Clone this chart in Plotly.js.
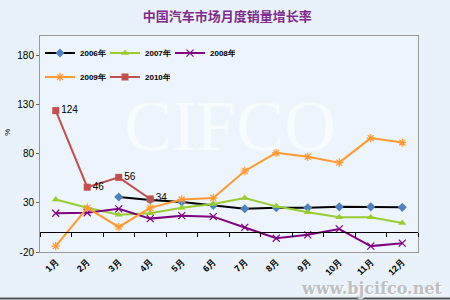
<!DOCTYPE html>
<html><head><meta charset="utf-8">
<script src="https://cdn.plot.ly/plotly-3.0.1.min.js"></script>
<style>html,body{margin:0;padding:0;background:#e9f2fb;}#c{width:450px;height:300px;}</style>
</head><body><div id="c"></div>
<script>
const months = ['1月','2月','3月','4月','5月','6月','7月','8月','9月','10月','11月','12月'];
const s2006 = [null, null, 36, 33, 31, 27.5, 24, 25, 25, 26, 26, 25.5];
const s2007 = [33.5, 25, 18, 19.5, 25, 29, 35, 26.5, 20.5, 15.5, 15.5, 9.5];
const s2008 = [19.5, 20, 24, 14, 17, 16, 5, -6, -2.5, 3.5, -14, -11];
const s2009 = [-14, 25, 5.5, 25, 33.5, 35, 62.5, 81, 77, 71, 96, 91.5];
const s2010 = [124, 46, 56, 34];
const names = ['2006年','2007年','2008年','2009年','2010年'];
const yTicks = [-20, 30, 80, 130, 180];

const traces = [
  {x: months, y: s2006, name: names[0], mode: 'lines+markers', legend: 'legend',
   line: {color: '#000000', width: 2}, marker: {symbol: 'diamond', size: 7, color: '#4f81bd'}},
  {x: months, y: s2007, name: names[1], mode: 'lines+markers', legend: 'legend',
   line: {color: '#99cc33', width: 2}, marker: {symbol: 'triangle-up', size: 7, color: '#99cc33'}},
  {x: months, y: s2008, name: names[2], mode: 'lines+markers', legend: 'legend',
   line: {color: '#800080', width: 2}, marker: {symbol: 'x-thin-open', size: 7, line: {color: '#800080', width: 1.2}}},
  {x: months, y: s2009, name: names[3], mode: 'lines+markers', legend: 'legend2',
   line: {color: '#ff9933', width: 2}, marker: {symbol: 'asterisk-open', size: 7, line: {color: '#4bacc6', width: 1.2}}},
  {x: months.slice(0, s2010.length), y: s2010, name: names[4], mode: 'lines+markers+text', legend: 'legend2',
   text: s2010.map(String), textposition: 'middle right', textfont: {family: 'Arial, Liberation Sans', size: 10, color: '#000'},
   line: {color: '#c0504d', width: 2}, marker: {symbol: 'square', size: 7, color: '#c0504d'}},
  {x: [0], y: [0], xaxis: 'x2', yaxis: 'y', mode: 'none', showlegend: false, hoverinfo: 'skip'}
];

const zeroPos = (0 - (-20)) / (200 - (-20));
const legendFont = {family: 'Arial, Liberation Sans', size: 8, color: '#000', weight: 'bold'};
const layout = {
  width: 450, height: 300,
  margin: {l: 40, r: 32, t: 36, b: 48},
  paper_bgcolor: '#e9f2fb', plot_bgcolor: '#edf4fb',
  title: {text: '中国汽车市场月度销量增长率', x: 0.505, xanchor: 'center', y: 0.945, yanchor: 'middle',
          font: {family: 'Noto Sans CJK SC', size: 13, color: '#7f2a8c', weight: 'bold'}},
  xaxis: {type: 'category', categoryorder: 'array', categoryarray: months, range: [-0.5, 11.5],
          showline: true, linecolor: '#999999', linewidth: 1, mirror: true, showgrid: false, zeroline: false,
          ticks: '', tickangle: -45, tickfont: {family: 'Arial, Liberation Sans', size: 9, color: '#000', weight: 'bold'}},
  xaxis2: {overlaying: 'x', anchor: 'free', position: zeroPos, type: 'linear', range: [-0.5, 11.5],
           tickmode: 'linear', tick0: -0.5, dtick: 1, ticks: 'outside', ticklen: 4, tickcolor: '#000', showticklabels: false,
           showline: true, linecolor: '#000', linewidth: 1, showgrid: false, zeroline: false},
  yaxis: {range: [-20, 200], tickvals: yTicks, ticktext: yTicks.map(String), showgrid: false,
          zeroline: true, zerolinecolor: '#000', zerolinewidth: 1,
          showline: true, linecolor: '#999999', mirror: true, ticks: 'outside', ticklen: 3, tickcolor: '#666',
          tickfont: {family: 'Arial, Liberation Sans', size: 10, color: '#000'}},
  legend: {orientation: 'h', x: 0.0, y: 0.921, xanchor: 'left', yanchor: 'middle', bgcolor: 'rgba(0,0,0,0)',
           itemwidth: 30, entrywidth: 20, font: legendFont},
  legend2: {orientation: 'h', x: 0.0, y: 0.81, xanchor: 'left', yanchor: 'middle', bgcolor: 'rgba(0,0,0,0)',
            itemwidth: 30, entrywidth: 20, font: legendFont},
  annotations: [
    {text: '%', xref: 'paper', yref: 'paper', x: -0.085, y: 0.556, xanchor: 'center', yanchor: 'middle', showarrow: false,
     textangle: -90, font: {family: 'Arial, Liberation Sans', size: 8, color: '#000'}},
    {text: 'CIFCO', xref: 'paper', yref: 'paper', x: 0.503, y: 0.585, xanchor: 'center', yanchor: 'middle', showarrow: false,
     font: {family: 'Liberation Serif', size: 72, color: 'rgba(255,255,255,0.6)'}},
    {text: 'www.bjcifco.net', xref: 'paper', yref: 'paper', x: 1.07, y: -0.17, xanchor: 'right', yanchor: 'middle', showarrow: false,
     font: {family: 'DejaVu Serif', size: 16, color: '#bfbfbf', weight: 'bold', shadow: '1px 1px 1px #ffffff'}}
  ],
  shapes: [
    {type: 'line', xref: 'paper', yref: 'paper', x0: -0.2, x1: 1.2, y0: -0.215, y1: -0.215, line: {color: '#555', width: 2}}
  ],
  showlegend: true
};
Plotly.newPlot('c', traces, layout, {staticPlot: true, displayModeBar: false});
</script></body></html>
